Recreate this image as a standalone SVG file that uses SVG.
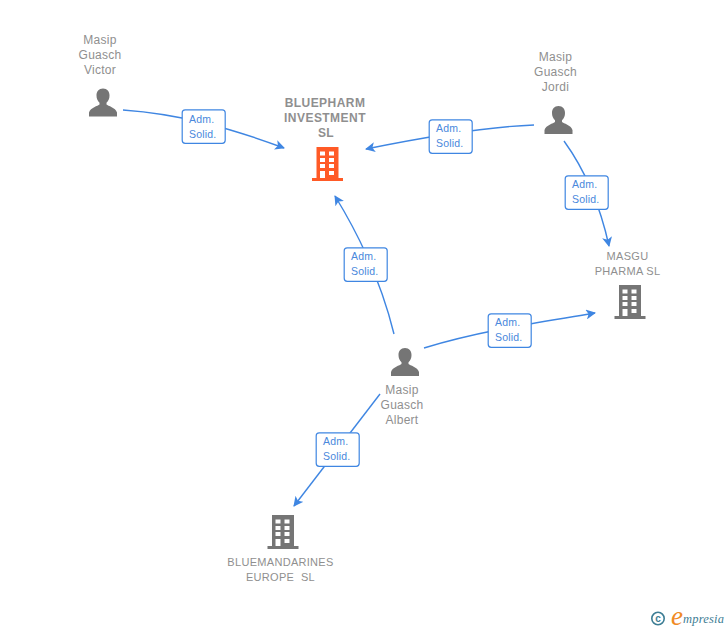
<svg xmlns="http://www.w3.org/2000/svg" width="728" height="630" viewBox="0 0 728 630">
<style>
text{font-family:"Liberation Sans",Arial,sans-serif;font-size:12px;fill:#8f8f8f;text-anchor:middle;letter-spacing:.25px}
.b{font-weight:bold;letter-spacing:.45px}
.n{font-size:11px;letter-spacing:.3px;white-space:pre}
.c{fill:none;stroke:#3f86e2;stroke-width:1.4;marker-end:url(#a)}
.box{fill:#fff;stroke:#3f86e2;stroke-width:1.2}
.t{font-size:10.5px;fill:#4a88dc;text-anchor:start;letter-spacing:.2px}
</style>
<defs>
<marker id="a" viewBox="0 0 10 10" refX="9" refY="5" markerWidth="10" markerHeight="10" markerUnits="userSpaceOnUse" orient="auto"><path d="M0 0L10 5L0 10L2.500 5Z" fill="#3f86e2"/></marker>
<g id="p"><path d="M0-14c-4.200 0-6.500 3-6.500 7 0 3 1 5.500 3 7.200v1.800C-5 3.500-12.500 5-14 10v4H14v-4C12.500 5 5 3.500 3.500 2V.2c2-1.700 3-4.200 3-7.200 0-4-2.300-7-6.500-7Z" fill="#757575"/></g>
<g id="f"><path fill-rule="evenodd" d="M-11-17H11V14H15.500V17H-15.500V14H-11ZM-7.500-12.500V-8.500H-2.500V-12.500ZM1.500-12.500V-8.500H6.500V-12.500ZM-7.500-6V-2H-2.500V-6ZM1.500-6V-2H6.500V-6ZM-7.500 0V4H-2.500V0ZM1.500 0V4H6.500V0ZM-7.500 7V14H-2.500V7ZM1.500 7V11H6.500V7Z"/></g>
</defs>
<g id="connectors">
<path class="c" d="M123 110C180 114 230 128 284 148"/>
<path class="c" d="M534 125C480 127 420 138 366 149"/>
<path class="c" d="M564 141C585 170 600 205 609 246"/>
<path class="c" d="M394 334C382 285 362 240 335 196"/>
<path class="c" d="M424 348C480 331 535 323 595 313"/>
<path class="c" d="M380 394L294 506"/>
</g>
<g id="label1"><rect class="box" x="182.200" y="109.800" width="43" height="33.500" rx="3"/><text class="t" x="189" y="123">Adm.</text><text class="t" x="189" y="138">Solid.</text></g>
<g id="label2"><rect class="box" x="429.200" y="119.800" width="43" height="33.500" rx="3"/><text class="t" x="436" y="132">Adm.</text><text class="t" x="436" y="147">Solid.</text></g>
<g id="label3"><rect class="box" x="565.200" y="175.800" width="43" height="33.500" rx="3"/><text class="t" x="572" y="188">Adm.</text><text class="t" x="572" y="203">Solid.</text></g>
<g id="label4"><rect class="box" x="344.200" y="247.800" width="43" height="33.500" rx="3"/><text class="t" x="351" y="260">Adm.</text><text class="t" x="351" y="275">Solid.</text></g>
<g id="label5"><rect class="box" x="488.200" y="313.800" width="43" height="33.500" rx="3"/><text class="t" x="495" y="326">Adm.</text><text class="t" x="495" y="341">Solid.</text></g>
<g id="label6"><rect class="box" x="316.200" y="432.800" width="43" height="33.500" rx="3"/><text class="t" x="323" y="445">Adm.</text><text class="t" x="323" y="460">Solid.</text></g>
<g id="victor"><text x="100" y="44">Masip</text><text x="100" y="59">Guasch</text><text x="100" y="74">Victor</text><use href="#p" x="103" y="102.500"/></g>
<g id="jordi"><text x="555.500" y="61">Masip</text><text x="555.500" y="76">Guasch</text><text x="555.500" y="91">Jordi</text><use href="#p" x="558.500" y="120"/></g>
<g id="albert"><use href="#p" x="405" y="362"/><text x="402" y="394">Masip</text><text x="402" y="409">Guasch</text><text x="402" y="424">Albert</text></g>
<g id="bluepharm"><text class="b" x="325" y="107">BLUEPHARM</text><text class="b" x="325" y="122">INVESTMENT</text><text class="b" x="326" y="137">SL</text><use href="#f" x="327.500" y="164" fill="#ff5a26"/></g>
<g id="masgu"><text class="n" x="627.500" y="260">MASGU</text><text class="n" x="627.500" y="275">PHARMA SL</text><use href="#f" x="630" y="302" fill="#757575"/></g>
<g id="bluemandarines"><use href="#f" x="283" y="532" fill="#757575"/><text class="n" x="280.500" y="566">BLUEMANDARINES</text><text class="n" x="280.500" y="581">EUROPE  SL</text></g>
<g id="brand"><circle cx="658" cy="618.500" r="6.200" fill="none" stroke="#3d7d94" stroke-width="1.600"/><text x="658" y="622" style="font-size:10px;font-weight:bold;fill:#3d7d94;letter-spacing:0">c</text><text x="677" y="625" style="font-family:'Liberation Serif',serif;font-style:italic;font-size:27px;fill:#f08a24;letter-spacing:0">e</text><text x="683" y="623" style="font-family:'Liberation Serif',serif;font-size:12.500px;font-style:italic;fill:#3d7d94;text-anchor:start;letter-spacing:.2px">mpresia</text></g>
</svg>
